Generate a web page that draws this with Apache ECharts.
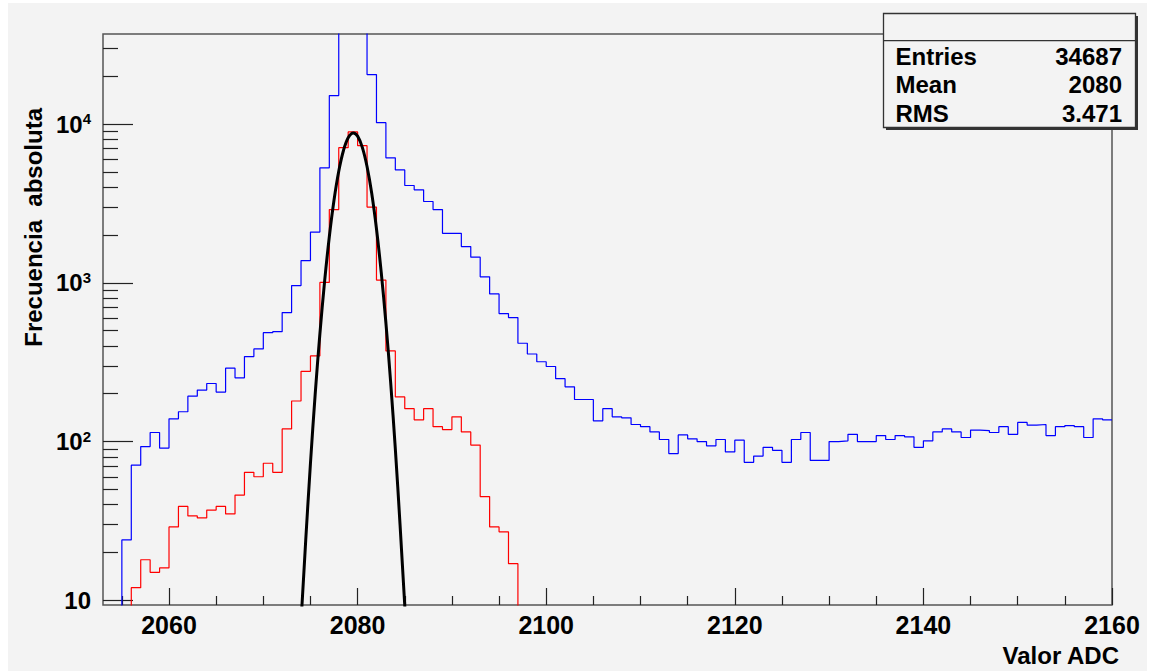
<!DOCTYPE html>
<html><head><meta charset="utf-8">
<script src="https://cdn.jsdelivr.net/npm/echarts@6/dist/echarts.min.js"></script>
<style>
html,body{margin:0;padding:0;background:#fff;}
#bg{position:absolute;left:8px;top:3px;width:1139px;height:668px;background:#f3f3f3;}
#chart{position:absolute;left:0;top:0;width:1152px;height:672px;}
</style></head><body><div id="bg"></div><div id="chart"></div>
<script>
// ---- data (bins of width 1, first bin left edge = binStart) ----
const binStart = 2053;
const blueCounts = [0, 0, 24, 71, 93, 114, 91, 139, 154, 193, 211, 232, 205, 290, 252, 343, 383, 485, 492, 649,
  960, 1380, 2085, 5300, 15100, 52000, 80000, 60000, 20500, 10200, 6120, 5140, 4100, 3850, 3250, 2890, 2050, 2050, 1690, 1450,
  1090, 851, 640, 604, 416, 356, 318, 297, 249, 221, 184, 184, 135, 161, 143, 141, 128, 124, 115, 103,
  84, 110, 104, 100, 94, 103, 86, 102, 74, 81, 92, 88, 74, 103, 114, 76, 76, 100, 101, 111,
  100, 100, 109, 103, 109, 107, 92, 101, 115, 120, 115, 106, 118, 117, 114, 124, 111, 132, 127, 128,
  109, 124, 126, 124, 106, 139, 137];
const redCounts = [0, 0, 0, 12, 18, 15, 16, 29, 39, 34, 33, 37, 39, 35, 46, 64, 60, 73, 64, 120,
  180, 277, 346, 1005, 2890, 7100, 8920, 7300, 3000, 1040, 372, 191, 161, 137, 161, 124, 119, 143, 115, 95,
  45, 29, 27, 17, 0];
const fitX = [2073.8, 2074.1, 2074.5, 2075, 2075.5, 2076, 2076.5, 2077, 2077.5, 2078, 2078.5, 2079, 2079.55,
  2080, 2080.5, 2081, 2081.5, 2082, 2082.5, 2083, 2083.5, 2084, 2084.5, 2085, 2085.3];
const fitY = [5, 9.3, 24, 73, 198, 476, 1020, 1950, 3320, 5040, 6810, 8200, 8790,
  8390, 7130, 5400, 3650, 2190, 1170, 560, 238, 90, 30, 9.3, 5];
const xMajorTicks = [2060, 2080, 2100, 2120, 2140, 2160];
const xMinorTicks = [2055, 2065, 2070, 2075, 2085, 2090, 2095, 2105, 2110, 2115, 2125, 2130, 2135, 2145, 2150, 2155];
const yMajorTicks = [10, 100, 1000, 10000];
const yMinorTicks = [20, 30, 40, 50, 60, 70, 80, 90, 200, 300, 400, 500, 600, 700, 800, 900,
  2000, 3000, 4000, 5000, 6000, 7000, 8000, 9000, 20000, 30000];
const statsLabels = ['Entries', 'Mean', 'RMS'];
const statsValues = ['34687', '2080', '3.471'];
const xTitle = 'Valor ADC';
const yTitle = 'Frecuencia  absoluta';

// ---- build ----
const FONT = '"Liberation Sans", Arial, Helvetica, sans-serif';
function stepPoints(counts) {
  const pts = counts.map((c, i) => [binStart + i, Math.max(c, 1)]);
  pts.push([binStart + counts.length, Math.max(counts[counts.length - 1], 1)]);
  return pts;
}
const fitPts = fitX.map((x, i) => [x, fitY[i]]);

const chart = echarts.init(document.getElementById('chart'), null, {renderer: 'svg'});
const xBase = {type: 'value', min: 2053, max: 2160, position: 'bottom', axisLine: {show: false}, splitLine: {show: false}};
const yBase = {type: 'log', logBase: 10, min: 9.34, max: 36900, position: 'left', axisLine: {show: false}, splitLine: {show: false}};
const tickStyle = {color: '#222', width: 1.2};

const statsGraphics = [];
const boxL = 883.5, boxT = 13.5, boxW = 252, boxH = 114;
statsGraphics.push({type: 'rect', z: 100, shape: {x: boxL + 2.5, y: boxT + 2.5, width: boxW, height: boxH}, style: {fill: '#333'}});
statsGraphics.push({type: 'rect', z: 101, shape: {x: boxL, y: boxT, width: boxW, height: boxH}, style: {fill: '#f3f3f3', stroke: '#333', lineWidth: 1.3}});
statsGraphics.push({type: 'line', z: 102, shape: {x1: boxL, y1: 40.7, x2: boxL + boxW, y2: 40.7}, style: {stroke: '#333', lineWidth: 1.3}});
statsLabels.forEach((t, i) => {
  const y = 56 + i * 28.6;
  statsGraphics.push({type: 'text', z: 103, style: {text: t, x: 895.5, y: y, align: 'left', verticalAlign: 'middle', fontSize: 24, fontWeight: 'bold', fontFamily: FONT, fill: '#000'}});
  statsGraphics.push({type: 'text', z: 103, style: {text: statsValues[i], x: 1122, y: y, align: 'right', verticalAlign: 'middle', fontSize: 24, fontWeight: 'bold', fontFamily: FONT, fill: '#000'}});
});
statsGraphics.push({type: 'text', z: 103, style: {text: xTitle, x: 1119, y: 655, align: 'right', verticalAlign: 'middle', fontSize: 24, fontWeight: 'bold', fontFamily: FONT, fill: '#000'}});
statsGraphics.push({type: 'text', z: 103, x: 33, y: 108, rotation: Math.PI / 2, style: {text: yTitle, x: 0, y: 0, align: 'right', verticalAlign: 'middle', fontSize: 24, fontWeight: 'bold', fontFamily: FONT, fill: '#000'}});

chart.setOption({
  animation: false,
  backgroundColor: 'transparent',
  grid: {left: 103, right: 40, top: 34, bottom: 67, show: true, borderColor: '#555', borderWidth: 1.5, backgroundColor: 'transparent', outerBoundsMode: 'none'},
  xAxis: [
    Object.assign({}, xBase, {
      axisTick: {inside: true, length: 17, customValues: xMajorTicks, lineStyle: tickStyle},
      axisLabel: {customValues: xMajorTicks, margin: 7, fontSize: 25, fontWeight: 'bold', fontFamily: FONT, color: '#000',
        formatter: v => String(v)}
    }),
    Object.assign({}, xBase, {
      axisTick: {inside: true, length: 9, customValues: xMinorTicks, lineStyle: tickStyle},
      axisLabel: {show: false}
    })
  ],
  yAxis: [
    Object.assign({}, yBase, {
      axisTick: {inside: true, length: 30, customValues: yMajorTicks, lineStyle: tickStyle},
      axisLabel: {
        customValues: yMajorTicks, margin: 12,
        formatter: v => {
          const e = Math.round(Math.log10(v));
          return e === 1 ? '{b|10}' : '{b|10}{s|' + e + '}';
        },
        rich: {
          b: {fontSize: 24, fontWeight: 'bold', fontFamily: FONT, color: '#000', lineHeight: 26},
          s: {fontSize: 15, fontWeight: 'bold', fontFamily: FONT, color: '#000', lineHeight: 14, verticalAlign: 'top'}
        }
      }
    }),
    Object.assign({}, yBase, {
      axisTick: {inside: true, length: 15, customValues: yMinorTicks, lineStyle: tickStyle},
      axisLabel: {show: false}
    })
  ],
  series: [
    {type: 'line', name: 'blue', xAxisIndex: 0, yAxisIndex: 0, data: stepPoints(blueCounts), step: 'end', symbol: 'none', clip: true,
      lineStyle: {color: '#0000ff', width: 1.2}},
    {type: 'line', name: 'red', xAxisIndex: 0, yAxisIndex: 0, data: stepPoints(redCounts), step: 'end', symbol: 'none', clip: true,
      lineStyle: {color: '#ff0000', width: 1.2}},
    {type: 'line', name: 'fit', xAxisIndex: 0, yAxisIndex: 0, data: fitPts, smooth: 0.35, symbol: 'none', clip: true,
      lineStyle: {color: '#000', width: 3}}
  ],
  graphic: statsGraphics
});
</script></body></html>
